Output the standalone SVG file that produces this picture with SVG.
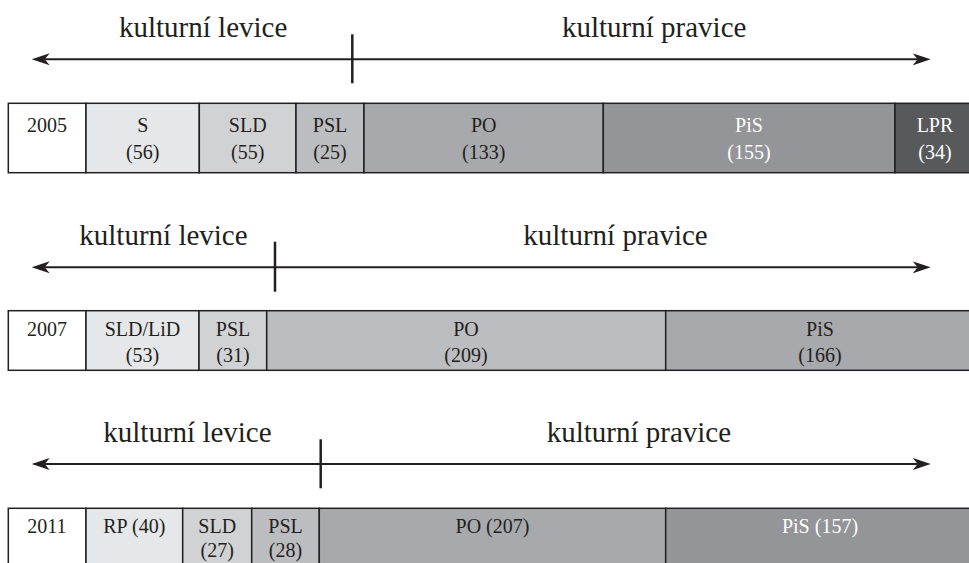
<svg xmlns="http://www.w3.org/2000/svg" width="969" height="563" viewBox="0 0 969 563">
<defs>
<marker id="ah" markerUnits="userSpaceOnUse" markerWidth="20" markerHeight="14" refX="5" refY="6" orient="auto-start-reverse" viewBox="0 0 20 12">
<path d="M0,0 L18,6 L0,12 L5,6 z" fill="#231f20"/>
</marker>
<style>
.ax{stroke:#231f20;stroke-width:2;fill:none}
.tk{stroke:#231f20;stroke-width:2.5}
.big{font-family:"Liberation Serif","Times New Roman",serif;font-size:29px;fill:#231f20}
.c{stroke:#231f20;stroke-width:1.5}
.t{font-family:"Liberation Serif","Times New Roman",serif;font-size:20px;fill:#231f20;text-anchor:middle}
.w{fill:#ffffff}
.f0{fill:#ffffff}.f1{fill:#e6e7e8}.f2{fill:#d1d2d4}.f3{fill:#bcbdc0}.f4{fill:#a7a9ac}.f5{fill:#939598}.f6{fill:#58595b}
</style>
</defs>
<rect width="969" height="563" fill="#ffffff"/>
<g id="connectors">
<line class="ax" x1="44.7" y1="59.3" x2="917.7" y2="59.3" marker-start="url(#ah)" marker-end="url(#ah)"/>
<line class="tk" x1="352.3" y1="34.3" x2="352.3" y2="83.3"/>
<line class="ax" x1="44.7" y1="267.3" x2="917.7" y2="267.3" marker-start="url(#ah)" marker-end="url(#ah)"/>
<line class="tk" x1="275" y1="241.7" x2="275" y2="291.7"/>
<line class="ax" x1="44.7" y1="464" x2="917.7" y2="464" marker-start="url(#ah)" marker-end="url(#ah)"/>
<line class="tk" x1="320.7" y1="439.3" x2="320.7" y2="488.3"/>
</g>
<g id="axis-labels">
<text class="big" x="119" y="37">kulturní levice</text>
<text class="big" x="562" y="37">kulturní pravice</text>
<text class="big" x="79.3" y="244.5">kulturní levice</text>
<text class="big" x="523.3" y="244.5">kulturní pravice</text>
<text class="big" x="103.3" y="441.5">kulturní levice</text>
<text class="big" x="546.7" y="441.5">kulturní pravice</text>
</g>
<g id="row-2005">
<g id="r1-year"><rect class="c f0" x="8.3" y="103.3" width="77.7" height="69.4"/><text class="t" x="47" y="132">2005</text></g>
<g id="r1-S"><rect class="c f1" x="86" y="103.3" width="113.3" height="69.4"/><text class="t" x="142.7" y="132">S</text><text class="t" x="142.7" y="158.5">(56)</text></g>
<g id="r1-SLD"><rect class="c f2" x="199.3" y="103.3" width="96.7" height="69.4"/><text class="t" x="247.7" y="132">SLD</text><text class="t" x="247.7" y="158.5">(55)</text></g>
<g id="r1-PSL"><rect class="c f3" x="296" y="103.3" width="68" height="69.4"/><text class="t" x="330" y="132">PSL</text><text class="t" x="330" y="158.5">(25)</text></g>
<g id="r1-PO"><rect class="c f4" x="364" y="103.3" width="239.3" height="69.4"/><text class="t" x="483.7" y="132">PO</text><text class="t" x="483.7" y="158.5">(133)</text></g>
<g id="r1-PiS"><rect class="c f5" x="603.3" y="103.3" width="291.7" height="69.4"/><text class="t w" x="749" y="132">PiS</text><text class="t w" x="749" y="158.5">(155)</text></g>
<g id="r1-LPR"><rect class="c f6" x="895" y="103.3" width="80" height="69.4"/><text class="t w" x="935" y="132">LPR</text><text class="t w" x="935" y="158.5">(34)</text></g>
</g>
<g id="row-2007">
<g id="r2-year"><rect class="c f0" x="8.3" y="310.7" width="77.7" height="59.6"/><text class="t" x="47" y="336">2007</text></g>
<g id="r2-SLDLiD"><rect class="c f1" x="86" y="310.7" width="113" height="59.6"/><text class="t" x="142.5" y="336">SLD/LiD</text><text class="t" x="142.5" y="362">(53)</text></g>
<g id="r2-PSL"><rect class="c f2" x="199" y="310.7" width="67.7" height="59.6"/><text class="t" x="233" y="336">PSL</text><text class="t" x="233" y="362">(31)</text></g>
<g id="r2-PO"><rect class="c f3" x="266.7" y="310.7" width="399" height="59.6"/><text class="t" x="466" y="336">PO</text><text class="t" x="466" y="362">(209)</text></g>
<g id="r2-PiS"><rect class="c f4" x="665.7" y="310.7" width="309.3" height="59.6"/><text class="t" x="820" y="336">PiS</text><text class="t" x="820" y="362">(166)</text></g>
</g>
<g id="row-2011">
<g id="r3-year"><rect class="c f0" x="8.3" y="508.3" width="77.7" height="70"/><text class="t" x="47" y="533">2011</text></g>
<g id="r3-RP"><rect class="c f1" x="86" y="508.3" width="96.7" height="70"/><text class="t" x="134.3" y="533">RP (40)</text></g>
<g id="r3-SLD"><rect class="c f2" x="182.7" y="508.3" width="69" height="70"/><text class="t" x="217.2" y="533">SLD</text><text class="t" x="217.2" y="557">(27)</text></g>
<g id="r3-PSL"><rect class="c f3" x="251.7" y="508.3" width="67.6" height="70"/><text class="t" x="285.5" y="533">PSL</text><text class="t" x="285.5" y="557">(28)</text></g>
<g id="r3-PO"><rect class="c f4" x="319.3" y="508.3" width="346.4" height="70"/><text class="t" x="492.5" y="533">PO (207)</text></g>
<g id="r3-PiS"><rect class="c f5" x="665.7" y="508.3" width="309.3" height="70"/><text class="t w" x="820" y="533">PiS (157)</text></g>
</g>
</svg>
